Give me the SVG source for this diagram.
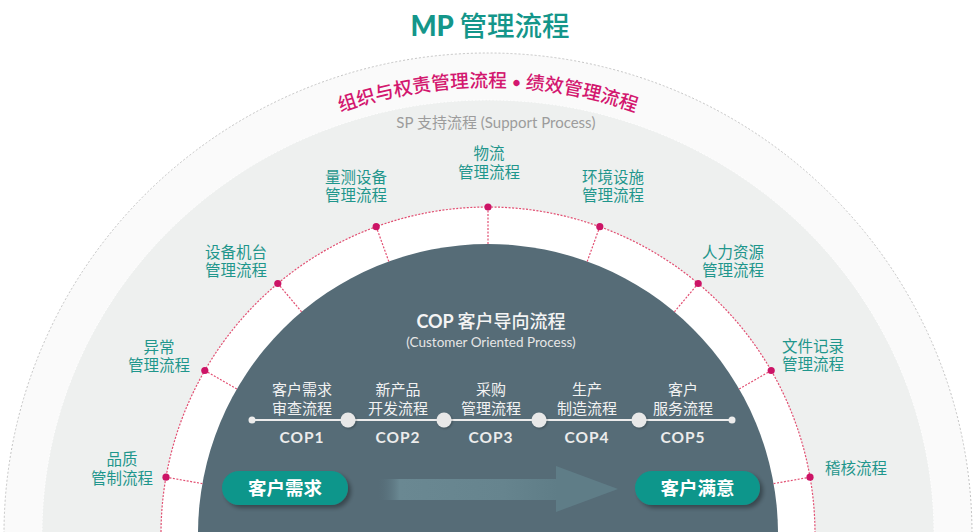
<svg xmlns="http://www.w3.org/2000/svg" width="976" height="532" viewBox="0 0 976 532">
<style>
.lbl{font-family:"Noto Sans CJK SC","Noto Sans",sans-serif;font-size:15.5px;fill:#1f968c;text-anchor:middle}
.wl{font-family:"Noto Sans CJK SC","Noto Sans",sans-serif;font-size:15px;fill:#f2f2f2;text-anchor:middle}
.cop{font-family:Lato,"Noto Sans CJK SC",sans-serif;font-size:15.5px;font-weight:bold;fill:#ececec;text-anchor:middle;letter-spacing:1px}
.pill{fill:#0e968b;filter:url(#sh)}
.pt{font-family:"Noto Sans CJK SC",sans-serif;font-size:18.5px;font-weight:bold;fill:#fff;text-anchor:middle}
.rad{stroke:#e24f72;stroke-width:1.2;stroke-dasharray:2 1.5;fill:none}
.dot{fill:#cc1466}
.knob{fill:#e8e8e8;filter:url(#sh2)}
</style>
<defs>
<filter id="sh" x="-20%" y="-30%" width="140%" height="170%"><feDropShadow dx="3" dy="3" stdDeviation="2" flood-color="#000" flood-opacity="0.35"/></filter>
<filter id="sh2" x="-50%" y="-50%" width="200%" height="200%"><feDropShadow dx="1" dy="1" stdDeviation="1" flood-color="#000" flood-opacity="0.3"/></filter>
<linearGradient id="ag" x1="378" y1="0" x2="557" y2="0" gradientUnits="userSpaceOnUse">
<stop offset="0" stop-color="#56707b" stop-opacity="0"/>
<stop offset="0.12" stop-color="#6a8892"/>
<stop offset="0.7" stop-color="#66848e"/>
<stop offset="1" stop-color="#5f7d87"/>
</linearGradient>
<path id="arcP" d="M 68 381.1 A 447 447 0 0 1 908 381.1"/>
</defs>
<rect width="976" height="532" fill="#fff"/>
<g id="rings">
<ellipse cx="488" cy="534" rx="484" ry="481" fill="#fafafa" stroke="#c4c4c4" stroke-width="1" stroke-dasharray="2 2"/>
<ellipse cx="488" cy="534" rx="446" ry="434" fill="#eef0ef" stroke="#ffffff" stroke-width="1" stroke-dasharray="2 1.5"/>
<circle cx="488" cy="534" r="327" fill="#fff"/>
<circle cx="488" cy="534" r="327" class="rad"/>
<circle cx="488" cy="534" r="290" fill="#566c77"/>
</g>
<text x="490" y="36" text-anchor="middle" font-family="Lato,'Noto Sans CJK SC',sans-serif" font-size="27.5" font-weight="900" fill="#14968a">MP <tspan font-family="'Noto Sans CJK SC',sans-serif" font-weight="500">管理流程</tspan></text>
<text font-family="'Noto Sans CJK SC',sans-serif" font-size="18.8" font-weight="500" fill="#d3176f"><textPath href="#arcP" startOffset="50%" text-anchor="middle">组织与权责管理流程<tspan font-family="Lato,sans-serif" font-weight="normal" font-size="17">  •  </tspan>绩效管理流程</textPath></text>
<text x="496" y="128" text-anchor="middle" font-family="Lato,'Noto Sans CJK SC',sans-serif" font-size="15" fill="#9c9c9c">SP <tspan font-family="'Noto Sans CJK SC',sans-serif">支持流程</tspan> (Support Process)</text>
<g id="connectors">
<line class="rad" x1="810" y1="477.2" x2="773.6" y2="483.6"/>
<line class="rad" x1="771.2" y1="370.5" x2="739.1" y2="389"/>
<line class="rad" x1="698.2" y1="283.5" x2="674.4" y2="311.8"/>
<line class="rad" x1="599.8" y1="226.7" x2="587.2" y2="261.5"/>
<line class="rad" x1="488" y1="207" x2="488" y2="244"/>
<line class="rad" x1="376.2" y1="226.7" x2="388.8" y2="261.5"/>
<line class="rad" x1="277.8" y1="283.5" x2="301.6" y2="311.8"/>
<line class="rad" x1="204.8" y1="370.5" x2="236.9" y2="389"/>
<line class="rad" x1="166" y1="477.2" x2="202.4" y2="483.6"/>
<line x1="252" y1="420" x2="732" y2="420" stroke="#ececec" stroke-width="2.2"/>
<circle cx="252" cy="420" r="3.5" fill="#ececec"/>
<circle cx="732" cy="420" r="3.5" fill="#ececec"/>
<rect x="378" y="479" width="179" height="21" fill="url(#ag)"/>
<polygon points="556,466 618,489 556,512" fill="#5f7d87"/>
</g>
<g id="sp-quality"><circle class="dot" cx="166" cy="477.2" r="3.6"/><text class="lbl" x="122" y="465">品质</text><text class="lbl" x="122" y="484">管制流程</text></g>
<g id="sp-exception"><circle class="dot" cx="204.8" cy="370.5" r="3.6"/><text class="lbl" x="159" y="352.5">异常</text><text class="lbl" x="159" y="371">管理流程</text></g>
<g id="sp-equipment"><circle class="dot" cx="277.8" cy="283.5" r="3.6"/><text class="lbl" x="236" y="257.5">设备机台</text><text class="lbl" x="236" y="276">管理流程</text></g>
<g id="sp-measure"><circle class="dot" cx="376.2" cy="226.7" r="3.6"/><text class="lbl" x="356" y="182.5">量测设备</text><text class="lbl" x="356" y="201">管理流程</text></g>
<g id="sp-logistics"><circle class="dot" cx="488" cy="207" r="3.6"/><text class="lbl" x="489" y="158.5">物流</text><text class="lbl" x="489" y="177.5">管理流程</text></g>
<g id="sp-environment"><circle class="dot" cx="599.8" cy="226.7" r="3.6"/><text class="lbl" x="613" y="182.5">环境设施</text><text class="lbl" x="613" y="201">管理流程</text></g>
<g id="sp-hr"><circle class="dot" cx="698.2" cy="283.5" r="3.6"/><text class="lbl" x="733" y="257.5">人力资源</text><text class="lbl" x="733" y="276">管理流程</text></g>
<g id="sp-docs"><circle class="dot" cx="771.2" cy="370.5" r="3.6"/><text class="lbl" x="813" y="351.5">文件记录</text><text class="lbl" x="813" y="370">管理流程</text></g>
<g id="sp-audit"><circle class="dot" cx="810" cy="477.2" r="3.6"/><text class="lbl" x="856" y="473.5">稽核流程</text></g>
<g id="cop-title">
<text x="491" y="328" text-anchor="middle" font-family="Lato,'Noto Sans CJK SC',sans-serif" font-size="18" font-weight="bold" fill="#f4f4f4">COP <tspan font-family="'Noto Sans CJK SC',sans-serif" font-weight="500">客户导向流程</tspan></text>
<text x="491" y="347" text-anchor="middle" font-family="Lato,sans-serif" font-size="13.5" fill="#e6e6e6">(Customer Oriented Process)</text>
</g>
<g id="knobs">
<circle class="knob" cx="348" cy="420" r="7.5"/>
<circle class="knob" cx="444" cy="420" r="7.5"/>
<circle class="knob" cx="539" cy="420" r="7.5"/>
<circle class="knob" cx="639" cy="420" r="7.5"/>
</g>
<g id="cop1"><text class="wl" x="302" y="394.5">客户需求</text><text class="wl" x="302" y="413.5">审查流程</text><text class="cop" x="302" y="443">COP1</text></g>
<g id="cop2"><text class="wl" x="398" y="394.5">新产品</text><text class="wl" x="398" y="413.5">开发流程</text><text class="cop" x="398" y="443">COP2</text></g>
<g id="cop3"><text class="wl" x="491" y="394.5">采购</text><text class="wl" x="491" y="413.5">管理流程</text><text class="cop" x="491" y="443">COP3</text></g>
<g id="cop4"><text class="wl" x="587" y="394.5">生产</text><text class="wl" x="587" y="413.5">制造流程</text><text class="cop" x="587" y="443">COP4</text></g>
<g id="cop5"><text class="wl" x="683" y="394.5">客户</text><text class="wl" x="683" y="413.5">服务流程</text><text class="cop" x="683" y="443">COP5</text></g>
<g id="demand"><rect class="pill" x="222" y="471" width="126" height="34" rx="17"/><text class="pt" x="285" y="494.5">客户需求</text></g>
<g id="satisfaction"><rect class="pill" x="635" y="471" width="125" height="34" rx="17"/><text class="pt" x="697.5" y="494.5">客户满意</text></g>
</svg>
